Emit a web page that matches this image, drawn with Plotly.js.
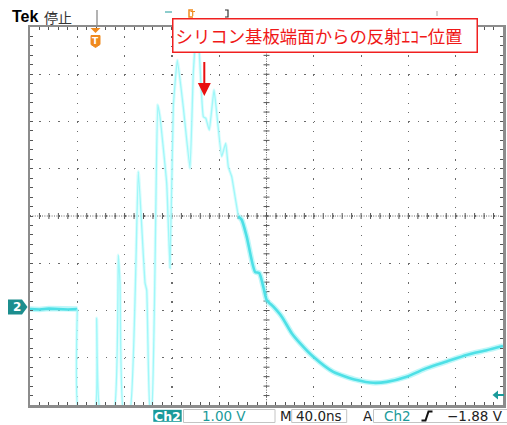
<!DOCTYPE html>
<html><head><meta charset="utf-8">
<script src="https://cdn.plot.ly/plotly-3.0.1.min.js"></script>
<style>html,body{margin:0;padding:0;background:#fff;overflow:hidden}#plot{width:507px;height:425px;}</style>
</head><body><div id="plot"></div>
<script>
// ---- waveform data (time in ns, voltage in V, 40 ns/div, 1 V/div) ----
const tPre  = [0, 8, 16, 24, 32, 40];
const vPre  = [0.03, 0.02, 0.04, 0.03, 0.02, 0.03];
const tRing = [40, 41, 55, 56.4, 59.2, 71, 74.7, 76.1, 78.9, 84.6, 91.6, 97.3, 98.7, 101.5, 102.9, 108, 109.9, 115.6, 118.4, 121.2, 124.6, 129.6, 135.3, 138.1, 140.8, 143.2, 146.6, 148.6, 151.6, 155.6, 157.9, 162.1, 165.5, 167.7, 170.6, 173.4, 176.2];
const vRing = [0.03, -2.1, -2.1, -0.16, -2.1, -2.1, 1.17, 0.58, -2.1, -2.1, 2.94, 0.58, 0.43, -2.1, -2.1, 4.35, 4.10, 2.69, 0.90, 4.31, 5.30, 4.31, 3.01, 5.02, 5.94, 5.44, 4.10, 4.07, 3.82, 4.67, 4.18, 3.26, 3.54, 3.04, 2.83, 2.41, 1.99];
const tTail = [176.2, 179.0, 183.3, 190.3, 193.9, 197.3, 200.2, 205.8, 212.9, 221.3, 228.3, 239.6, 256.5, 276.3, 290.3, 301.7, 318.6, 335.5, 352.4, 369.3, 386.2, 400];
const vTail = [1.99, 1.92, 1.56, 0.82, 0.79, 0.50, 0.22, 0.08, -0.13, -0.48, -0.69, -0.98, -1.30, -1.47, -1.53, -1.51, -1.40, -1.22, -1.08, -0.94, -0.84, -0.75];

// ---- text ----
const headerBrand = 'Tek';
const headerState = '停止';
const calloutText = 'シリコン基板端面からの反射ｴｺｰ位置';
const chLabel = 'Ch2';
const voltsDiv = '1.00 V';
const timeMark = 'M';
const timeDiv = '40.0ns';
const trigMark = 'A';
const trigSrc = 'Ch2';
const trigLevel = '−1.88 V';
const chNumber = '2';

// ---- geometry ----
const W = 507, H = 425;
const L = 30, R = 503, T = 27, B = 405;
const px = x => (x - L) / (R - L);
const py = y => (B - y) / (B - T);
const P = (pts) => 'M' + pts.map(p => px(p[0]) + ',' + py(p[1])).join('L');

const teal = '#1a9a9a';
const orange = '#f08a1e';
const gridCol = '#6a6a6a';
const dotDash = '1.2px,' + (9.46 - 1.2).toFixed(2) + 'px';

const thick = {color: 'rgb(78,224,230)', width: 2.6};
const thickGlow = {color: 'rgba(140,240,244,0.55)', width: 5.5};
const thin = {color: 'rgb(160,247,249)', width: 1.3};
const thinGlow = {color: 'rgba(195,251,252,0.6)', width: 3.2};
const spl = (o, s) => Object.assign({shape: 'spline', smoothing: s}, o);

const traces = [
  {x: tPre, y: vPre, mode: 'lines', line: thickGlow, hoverinfo: 'skip'},
  {x: tRing, y: vRing, mode: 'lines', line: spl(thinGlow, 0.35), hoverinfo: 'skip'},
  {x: tTail, y: vTail, mode: 'lines', line: spl(thickGlow, 0.6), hoverinfo: 'skip'},
  {x: tPre, y: vPre, mode: 'lines', line: thick, hoverinfo: 'skip'},
  {x: tRing, y: vRing, mode: 'lines', line: spl(thin, 0.35), hoverinfo: 'skip'},
  {x: tTail, y: vTail, mode: 'lines', line: spl(thick, 0.6), hoverinfo: 'skip'}
];

const axisCommon = {
  showgrid: true, gridcolor: gridCol, gridwidth: 1.2, griddash: dotDash,
  zeroline: false, showline: true, linecolor: '#8c8c8c', linewidth: 2.5, mirror: 'ticks',
  ticks: 'inside', ticklen: 3, tickcolor: '#555', tickwidth: 1,
  showticklabels: false, fixedrange: true
};

const shapes = [];
// centre cross-hair
shapes.push({type: 'line', xref: 'x', yref: 'paper', x0: 200, x1: 200, y0: 0, y1: 1, line: {color: '#666', width: 1, dash: '1px,1.4px'}, layer: 'below'});
shapes.push({type: 'line', xref: 'paper', yref: 'y', x0: 0, x1: 1, y0: 2, y1: 2, line: {color: '#666', width: 1, dash: '1px,1.4px'}, layer: 'below'});
for (let i = 1; i < 50; i++) {
  shapes.push({type: 'line', xref: 'x', yref: 'y', x0: i * 8, x1: i * 8, ysizemode: 'pixel', yanchor: 2, y0: -3, y1: 3, line: {color: '#555', width: 1}, layer: 'below'});
}
for (let j = 1; j < 40; j++) {
  const v = -2 + j * 0.2;
  shapes.push({type: 'line', xref: 'x', yref: 'y', xsizemode: 'pixel', xanchor: 200, x0: -3, x1: 3, y0: v, y1: v, line: {color: '#555', width: 1}, layer: 'below'});
}
// header marks
shapes.push({type: 'line', xref: 'paper', yref: 'paper', x0: px(97), x1: px(97), y0: py(10), y1: py(25), line: {color: '#9a9a9a', width: 1.5}});
shapes.push({type: 'line', xref: 'paper', yref: 'paper', x0: px(165), x1: px(172), y0: py(12), y1: py(12), line: {color: teal, width: 1}});
shapes.push({type: 'path', xref: 'paper', yref: 'paper', path: P([[193, 10], [189, 10], [189, 17], [193, 17]]), line: {color: orange, width: 1.5}});
shapes.push({type: 'path', xref: 'paper', yref: 'paper', path: P([[190.5, 11.5], [195, 11.5]]) + P([[192.7, 11.5], [192.7, 16]]), line: {color: orange, width: 1.2}});
shapes.push({type: 'path', xref: 'paper', yref: 'paper', path: P([[225, 10], [228, 10], [228, 17], [225, 17]]), line: {color: '#333', width: 1.2}});
shapes.push({type: 'line', xref: 'paper', yref: 'paper', x0: px(437), x1: px(437), y0: py(11), y1: py(16), line: {color: '#aaa', width: 1}});
// trigger position marker (orange)
shapes.push({type: 'path', xref: 'paper', yref: 'paper', path: P([[90.5, 28], [100.5, 28], [95.5, 33]]) + 'Z', fillcolor: orange, line: {width: 0}});
shapes.push({type: 'path', xref: 'paper', yref: 'paper', path: P([[91, 35.5], [100, 35.5], [100, 44.5], [95.5, 47.5], [91, 44.5]]) + 'Z', fillcolor: orange, line: {color: orange, width: 1}});
// channel 2 ground marker
shapes.push({type: 'path', xref: 'paper', yref: 'paper', path: P([[8, 299.5], [22, 299.5], [27.5, 307], [22, 314.5], [8, 314.5]]) + 'Z', fillcolor: '#1c8e8e', line: {width: 0}});
// trigger level arrow (right)
shapes.push({type: 'path', xref: 'paper', yref: 'paper', path: P([[492.5, 395], [498, 390.5], [498, 399.5]]) + 'Z', fillcolor: teal, line: {width: 0}});
shapes.push({type: 'line', xref: 'paper', yref: 'paper', x0: px(497), x1: px(504), y0: py(395), y1: py(395), line: {color: teal, width: 2}});
// footer boxes
shapes.push({type: 'rect', xref: 'paper', yref: 'paper', x0: px(153.3), x1: px(181.7), y0: py(409.8), y1: py(421.8), fillcolor: teal, line: {width: 0}});
shapes.push({type: 'rect', xref: 'paper', yref: 'paper', x0: px(183.5), x1: px(275), y0: py(409.5), y1: py(422.5), fillcolor: '#fff', line: {color: '#c4c4c4', width: 1}});
shapes.push({type: 'rect', xref: 'paper', yref: 'paper', x0: px(291.7), x1: px(346.7), y0: py(409.5), y1: py(422.5), fillcolor: '#fff', line: {color: '#c4c4c4', width: 1}});
shapes.push({type: 'rect', xref: 'paper', yref: 'paper', x0: px(373.5), x1: px(510), y0: py(409.5), y1: py(422.5), fillcolor: '#fff', line: {color: '#c4c4c4', width: 1}});
shapes.push({type: 'path', xref: 'paper', yref: 'paper', path: P([[421.5, 420.5], [425.5, 420.5], [428.5, 411.5], [432.5, 411.5]]), line: {color: '#111', width: 2}});

const footFont = {family: 'DejaVu Sans, Verdana, sans-serif', size: 13.5};
const ann = (x, y, text, font, extra) => Object.assign({xref: 'paper', yref: 'paper', x: px(x), y: py(y), text: text, showarrow: false, font: font, xanchor: 'center', yanchor: 'middle'}, extra || {});

const annotations = [
  ann(10, 16.5, '<b>' + headerBrand + '</b>', {family: 'Liberation Sans, Arial, sans-serif', size: 16, color: '#000'}, {xanchor: 'left'}),
  ann(41.5, 16.5, headerState, {family: 'Noto Sans CJK JP, sans-serif', size: 14, color: '#333'}, {xanchor: 'left'}),
  ann(95.5, 41.3, '<b>T</b>', {family: 'DejaVu Sans, sans-serif', size: 9, color: '#fff'}),
  ann(16.5, 307, '<b>' + chNumber + '</b>', {family: 'DejaVu Sans, sans-serif', size: 12, color: '#fff'}),
  ann(167.5, 416, '<b>' + chLabel + '</b>', Object.assign({}, footFont, {color: '#fff', size: 12.5})),
  ann(224, 416, voltsDiv, Object.assign({}, footFont, {color: teal})),
  ann(286, 416, timeMark, Object.assign({}, footFont, {color: '#222'})),
  ann(319, 416, timeDiv, Object.assign({}, footFont, {color: '#222'})),
  ann(368, 416, trigMark, Object.assign({}, footFont, {color: '#222'})),
  ann(397.5, 416, trigSrc, Object.assign({}, footFont, {color: teal})),
  ann(475, 416, trigLevel, Object.assign({}, footFont, {color: '#222'})),
  // red arrow
  {xref: 'paper', yref: 'paper', x: px(204.3), y: py(96), text: ' ', showarrow: true, ax: 0, ay: -44, arrowcolor: '#e81010', arrowwidth: 2, arrowhead: 2, arrowsize: 1.3, standoff: 0, startstandoff: 0},
  // callout box
  {xref: 'paper', yref: 'paper', x: px(172.3), y: py(35), xanchor: 'left', yanchor: 'middle', text: calloutText, showarrow: false, align: 'left', width: 299, height: 27.6, bgcolor: '#fff', bordercolor: '#f02020', borderwidth: 1.5, borderpad: 2, font: {family: 'Noto Sans CJK JP, sans-serif', size: 17.4, color: '#f01818'}}
];

const layout = {
  width: W, height: H,
  margin: {l: L, r: W - R, t: T, b: H - B, pad: 0},
  paper_bgcolor: '#fff', plot_bgcolor: '#fff',
  showlegend: false,
  xaxis: Object.assign({range: [0, 400], tick0: 0, dtick: 40, minor: {dtick: 8, ticks: 'inside', ticklen: 3, tickcolor: '#555', showgrid: false}}, axisCommon),
  yaxis: Object.assign({range: [-2, 6], tick0: -2, dtick: 1, minor: {dtick: 0.2, ticks: 'inside', ticklen: 3, tickcolor: '#555', showgrid: false}}, axisCommon),
  shapes: shapes,
  annotations: annotations
};

Plotly.newPlot('plot', traces, layout, {staticPlot: true, displayModeBar: false});
</script>
</body></html>
